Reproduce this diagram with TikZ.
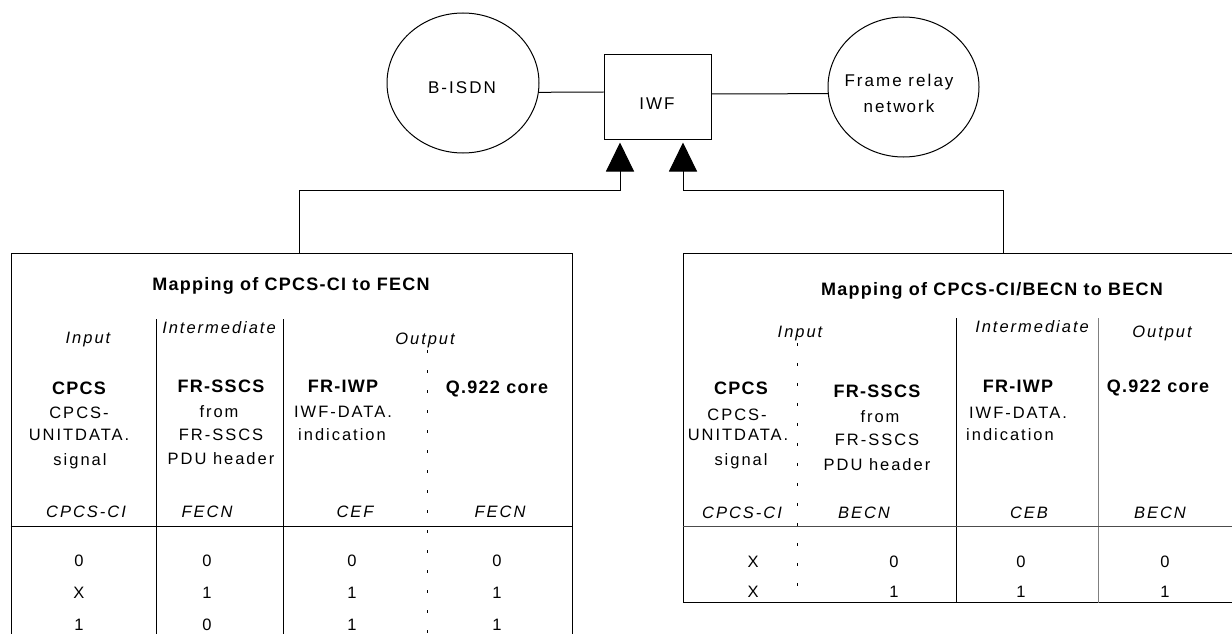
\documentclass[tikz,border=0pt]{standalone}
\usepackage{fontspec}
\newfontfamily\reg[LetterSpace=12]{Liberation Sans}
\newfontfamily\hdr[LetterSpace=7]{Liberation Sans}
\usetikzlibrary{arrows.meta,shapes.geometric}
\colorlet{softline}{black!50}
\begin{document}
\begin{tikzpicture}[x=1pt,y=-1pt,line width=1pt,
  cloud/.style={draw,ellipse,inner sep=0pt,minimum width=152pt,minimum height=140pt},
  iwfbox/.style={draw,rectangle,inner sep=0pt,minimum width=107pt,minimum height=84pt},
  tablebox/.style={draw,rectangle,inner sep=0pt},
  txt/.style={anchor=base,inner sep=0pt,font=\reg\fontsize{16.5}{20}\selectfont},
  big/.style={anchor=base,inner sep=0pt,font=\reg\fontsize{17}{20}\selectfont},
  itx/.style={txt,font=\reg\itshape\fontsize{16.5}{20}\selectfont},
  btx/.style={anchor=base,inner sep=0pt,font=\hdr\bfseries\fontsize{18}{20}\selectfont},
  sep/.style={draw},
  dsep/.style={draw,dash pattern=on 3pt off 17pt},
  feed/.style={-{Triangle[length=29pt,width=28pt]},shorten >=3pt}]
\path[use as bounding box] (0,0) rectangle (1232,634);
\clip (0,0) rectangle (1232,634);

% ---------- networks and interworking function ----------
\node[cloud] (bisdn) at (463,83) {};
\node[big] (bisdnt) at (462,93) {B-ISDN};
\node[iwfbox] (iwf) at (657.5,97) {};
\node[big] (iwft) at (657,110) {IWF};
\node[cloud,minimum width=151pt] (frn) at (903.5,87) {};
\node[big] (frnt1) at (899,87) {Fram\kern2pt e relay};
\node[big] (frnt2) at (899,112) {netw\kern1pt ork};

\coordinate (l1) at (0,92);
\coordinate (l2) at (0,94);
\draw (bisdn.-7) -- (iwf.west |- l1);
\draw (iwf.east |- l2) -- (frn.185);

% ---------- left mapping table ----------
\node[tablebox,minimum width=561pt,minimum height=407pt] (ltab) at (291.5,456.5) {};
\coordinate (lc1) at (156,319);
\coordinate (lc2) at (283,319);
\coordinate (lc3) at (427,350);
\coordinate (lrow) at (0,526);
\draw (lc1) -- (lc1 |- ltab.south);
\draw (lc2) -- (lc2 |- ltab.south);
\draw[dsep] (lc3) -- (lc3 |- ltab.south);
\draw (ltab.west |- lrow) -- (ltab.east |- lrow);

\node[btx] (lt) at (291,290) {Mapping of CPCS-CI to FECN};
\node[itx] (lh1) at (88,343) {Input};
\node[itx] (lh2) at (219,333) {Intermediate};
\node[itx] (lh3) at (425,344) {Output};

\node[btx] (la1) at (79,394) {CPCS};
\node[txt] (la2) at (79,418) {CPCS-};
\node[txt] (la3) at (79,440) {UNITDATA.};
\node[txt] (la4) at (80,465) {signal};
\node[btx] (lb1) at (221,392) {FR-SSCS};
\node[txt] (lb2) at (219,417) {from};
\node[txt] (lb3) at (221,440) {FR-SSCS};
\node[txt] (lb4) at (221,464) {PDU header};
\node[btx] (lc1t) at (343,392) {FR-IWP};
\node[txt] (lc2t) at (343,417) {IW\kern2pt F-DATA.};
\node[txt] (lc3t) at (342,440) {indication};
\node[btx] (ld1) at (497,393) {Q.922 core};

\node[itx] (lf1) at (86,517) {CPCS-CI};
\node[itx] (lf2) at (207,517) {FECN};
\node[itx] (lf3) at (355,517) {CEF};
\node[itx] (lf4) at (500,517) {FECN};

\foreach \y/\a/\b/\c/\d [count=\r] in {566/0/0/0/0, 598/X/1/1/1, 630/1/0/1/1} {
  \node[txt] (lv\r a) at (79,\y) {\a};
  \node[txt] (lv\r b) at (207,\y) {\b};
  \node[txt] (lv\r c) at (352,\y) {\c};
  \node[txt] (lv\r d) at (497,\y) {\d};
}

% ---------- right mapping table ----------
\node[tablebox,minimum width=567pt,minimum height=349pt] (rtab) at (966.5,427.5) {};
\coordinate (rc1) at (797,343);
\coordinate (rc2) at (956,318);
\coordinate (rc3) at (1098,318);
\coordinate (rrow) at (0,526);
\draw[dsep] (rc1) -- (rc1 |- rtab.south);
\draw (rc2) -- (rc2 |- rtab.south);
\draw[softline] (rc3) -- (rc3 |- rtab.south);
\draw[black!70] (rtab.west |- rrow) -- (rtab.east |- rrow);

\node[btx] (rt) at (992,295) {Mapping of CPCS-CI/BECN to BECN};
\node[itx] (rh1) at (800,337) {Input};
\node[itx] (rh2) at (1032,332) {Intermediate};
\node[itx] (rh3) at (1162,337) {Output};

\node[btx] (ra1) at (741,394) {CPCS};
\node[txt] (ra2) at (737,420) {CPCS-};
\node[txt] (ra3) at (738,440) {UNITDATA.};
\node[txt] (ra4) at (741,465) {signal};
\node[btx] (rb1) at (877,397) {FR-SSCS};
\node[txt] (rb2) at (880,422) {from};
\node[txt] (rb3) at (877,445) {FR-SSCS};
\node[txt] (rb4) at (877,470) {PDU header};
\node[btx] (rc1t) at (1018,392) {FR-IWP};
\node[txt] (rc2t) at (1018,418) {IW\kern2pt F-DATA.};
\node[txt] (rc3t) at (1010,440) {indication};
\node[btx] (rd1) at (1158,392) {Q.922 core};

\node[itx] (rf1) at (742,518) {CPCS-CI};
\node[itx] (rf2) at (864,518) {BECN};
\node[itx] (rf3) at (1029,518) {CEB};
\node[itx] (rf4) at (1160,518) {BECN};

\foreach \y/\a/\b/\c/\d [count=\r] in {567/X/0/0/0, 597/X/1/1/1} {
  \node[txt] (rv\r a) at (753,\y) {\a};
  \node[txt] (rv\r b) at (894,\y) {\b};
  \node[txt] (rv\r c) at (1021,\y) {\c};
  \node[txt] (rv\r d) at (1165,\y) {\d};
}

% ---------- feeds into the IWF ----------
\coordinate (hy) at (0,190);
\coordinate (lx) at (299,0);
\coordinate (rx) at (1003,0);
\coordinate (a1) at (620,0);
\coordinate (a2) at (683,0);
\draw[feed] (ltab.north -| lx) |- (a1 |- hy) -- (iwf.south -| a1);
\draw[feed] (rtab.north -| rx) |- (a2 |- hy) -- (iwf.south -| a2);
\end{tikzpicture}
\end{document}
